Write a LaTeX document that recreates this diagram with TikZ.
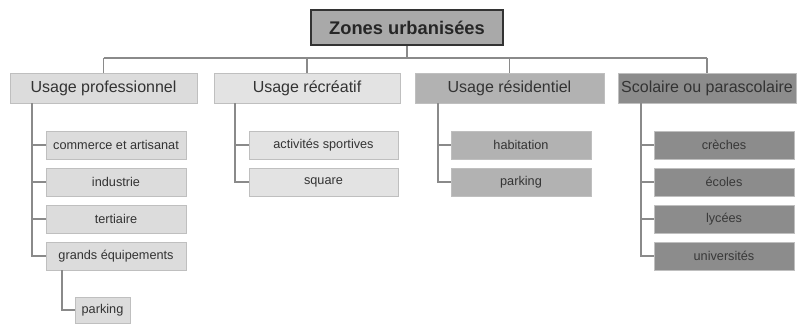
\documentclass[tikz,border=0pt]{standalone}
\usepackage{fontspec}
\setmainfont{Liberation Sans}
\definecolor{linec}{HTML}{8A8A8A}
\definecolor{txt}{HTML}{333333}
\definecolor{ctitle}{HTML}{A9A9A9}
\definecolor{cpro}{HTML}{DCDCDC}
\definecolor{crec}{HTML}{E3E3E3}
\definecolor{cres}{HTML}{B2B2B2}
\definecolor{csco}{HTML}{8C8C8C}
\begin{document}
\begin{tikzpicture}[x=1pt,y=-1pt,
  conn/.style={draw=linec,line width=1.5pt},
  titlebox/.style={draw=black!80,line width=1.6pt,fill=ctitle,minimum width=192pt,minimum height=35pt,inner sep=0pt,text=black!85,font=\fontsize{18.3}{20}\selectfont\bfseries},
  lvone/.style={draw=black!25,line width=0.6pt,minimum height=30pt,inner sep=0pt,text=txt,font=\fontsize{16}{18}\selectfont},
  lvtwo/.style={draw=black!25,line width=0.6pt,minimum height=28pt,inner sep=0pt,text=txt,font=\fontsize{12.7}{14}\selectfont},
]
\useasboundingbox (0,0) rectangle (798,324);
\fill[white] (0,0) rectangle (798,324);

\node[titlebox] (t) at (407,27.5) {Zones urbanisées};

\node[lvone,fill=cpro,minimum width=187pt] (p1) at (103.5,88) {Usage professionnel};
\node[lvone,fill=crec,minimum width=186pt] (p2) at (307,88) {Usage récréatif};
\node[lvone,fill=cres,minimum width=189pt] (p3) at (509.5,88) {Usage résidentiel};
\node[lvone,fill=csco,minimum width=178pt] (p4) at (707,88) {Scolaire ou parascolaire};

\node[lvtwo,fill=cpro,minimum width=140pt] (c11) at (116,145) {commerce et artisanat};
\node[lvtwo,fill=cpro,minimum width=140pt] (c12) at (116,182) {industrie};
\node[lvtwo,fill=cpro,minimum width=140pt] (c13) at (116,219) {tertiaire};
\node[lvtwo,fill=cpro,minimum width=140pt] (c14) at (116,256) {grands équipements};
\node[lvtwo,fill=cpro,minimum width=55pt,minimum height=26pt] (c15) at (102.5,310) {parking};

\node[lvtwo,fill=crec,minimum width=149pt] (c21) at (323.5,145) {activités sportives};
\node[lvtwo,fill=crec,minimum width=149pt] (c22) at (323.5,182) {square};

\node[lvtwo,fill=cres,minimum width=140pt] (c31) at (521,145) {habitation};
\node[lvtwo,fill=cres,minimum width=140pt] (c32) at (521,182) {parking};

\node[lvtwo,fill=csco,minimum width=140pt,text=black!78] (c41) at (724,145) {crèches};
\node[lvtwo,fill=csco,minimum width=140pt,text=black!78] (c42) at (724,182) {écoles};
\node[lvtwo,fill=csco,minimum width=140pt,text=black!78] (c43) at (724,219) {lycées};
\node[lvtwo,fill=csco,minimum width=140pt,text=black!78] (c44) at (724,256) {universités};

\coordinate (bar) at (0,58);
\coordinate (b1) at (32,0);
\coordinate (b2) at (235,0);
\coordinate (b3) at (438,0);
\coordinate (b4) at (641,0);
\coordinate (b5) at (62,0);

\draw[conn] (t.south) -- (t.south |- bar);
\draw[conn] (p1.north |- bar) -- (p4.north |- bar);
\draw[conn] (p1.north |- bar) -- (p1.north);
\draw[conn] (p2.north |- bar) -- (p2.north);
\draw[conn] (p3.north |- bar) -- (p3.north);
\draw[conn] (p4.north |- bar) -- (p4.north);

\draw[conn] (b1 |- p1.south) -- (b1 |- c14.west) -- (c14.west);
\draw[conn] (b1 |- c11.west) -- (c11.west);
\draw[conn] (b1 |- c12.west) -- (c12.west);
\draw[conn] (b1 |- c13.west) -- (c13.west);
\draw[conn] (b5 |- c14.south) -- (b5 |- c15.west) -- (c15.west);

\draw[conn] (b2 |- p2.south) -- (b2 |- c22.west) -- (c22.west);
\draw[conn] (b2 |- c21.west) -- (c21.west);

\draw[conn] (b3 |- p3.south) -- (b3 |- c32.west) -- (c32.west);
\draw[conn] (b3 |- c31.west) -- (c31.west);

\draw[conn] (b4 |- p4.south) -- (b4 |- c44.west) -- (c44.west);
\draw[conn] (b4 |- c41.west) -- (c41.west);
\draw[conn] (b4 |- c42.west) -- (c42.west);
\draw[conn] (b4 |- c43.west) -- (c43.west);
\end{tikzpicture}
\end{document}
